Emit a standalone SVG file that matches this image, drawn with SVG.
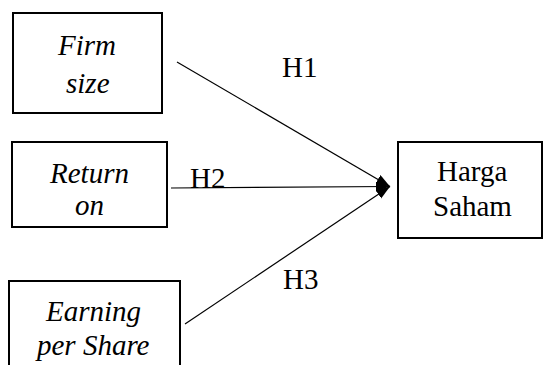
<svg xmlns="http://www.w3.org/2000/svg" width="544" height="365" viewBox="0 0 544 365">
  <defs>
    <marker id="head" markerUnits="userSpaceOnUse" markerWidth="16" markerHeight="12" refX="14" refY="5" orient="auto">
      <path d="M0,0 L14,5 L0,10 Z" fill="#000000"/>
    </marker>
  </defs>
  <rect width="544" height="365" fill="#ffffff"/>

  <!-- node frames -->
  <g id="firm-size">
    <rect x="13" y="13" width="149" height="100" fill="none" stroke="#000000" stroke-width="2"/>
  </g>
  <g id="return-on">
    <rect x="12" y="142" width="155" height="85" fill="none" stroke="#000000" stroke-width="2"/>
  </g>
  <g id="eps">
    <rect x="9" y="281" width="171" height="100" fill="none" stroke="#000000" stroke-width="2"/>
  </g>
  <g id="harga-saham">
    <rect x="398" y="142" width="144" height="96" fill="none" stroke="#000000" stroke-width="2"/>
  </g>

  <g id="connectors">
    <line x1="177" y1="62" x2="390" y2="186.5" stroke="#000000" stroke-width="1.2" marker-end="url(#head)"/>
    <line x1="171" y1="188" x2="390" y2="186.5" stroke="#000000" stroke-width="1.2" marker-end="url(#head)"/>
    <line x1="185" y1="324" x2="390" y2="186.5" stroke="#000000" stroke-width="1.2" marker-end="url(#head)"/>
    <text x="282" y="77" font-family="Liberation Serif" font-size="29">H1</text>
    <text x="190" y="188" font-family="Liberation Serif" font-size="29">H2</text>
    <text x="283" y="289" font-family="Liberation Serif" font-size="29">H3</text>
  </g>

  <!-- node labels -->
  <g id="labels">
    <text x="58" y="55" font-family="Liberation Serif" font-size="29" font-style="italic">Firm</text>
    <text x="66" y="93" font-family="Liberation Serif" font-size="29" font-style="italic">size</text>
    <text x="50" y="183" font-family="Liberation Serif" font-size="29" font-style="italic">Return</text>
    <text x="75" y="215" font-family="Liberation Serif" font-size="29" font-style="italic">on</text>
    <text x="46" y="321" font-family="Liberation Serif" font-size="29" font-style="italic">Earning</text>
    <text x="37" y="355" font-family="Liberation Serif" font-size="29" font-style="italic">per Share</text>
    <text x="437" y="181" font-family="Liberation Serif" font-size="29">Harga</text>
    <text x="433" y="216" font-family="Liberation Serif" font-size="29">Saham</text>
  </g>
</svg>
